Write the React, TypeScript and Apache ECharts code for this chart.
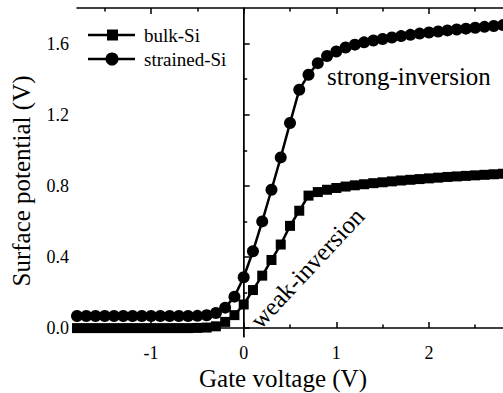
import React, { useEffect, useRef } from "react";
import * as echarts from "echarts";

const gateVoltage = [
  -1.8, -1.7, -1.6, -1.5, -1.4, -1.3, -1.2, -1.1, -1.0, -0.9, -0.8, -0.7, -0.6, -0.5, -0.4,
  -0.3, -0.2, -0.1, 0.0, 0.1, 0.2, 0.3, 0.4, 0.5, 0.6, 0.7, 0.8, 0.9, 1.0, 1.1, 1.2, 1.3,
  1.4, 1.5, 1.6, 1.7, 1.8, 1.9, 2.0, 2.1, 2.2, 2.3, 2.4, 2.5, 2.6, 2.7, 2.8,
];

const bulkSi = [
  0.0, 0.0, 0.0, 0.0, 0.0, 0.0, 0.0, 0.0, 0.0, 0.0, 0.0, 0.0, 0.0, 0.001, 0.003,
  0.01, 0.035, 0.073, 0.133, 0.214, 0.295, 0.383, 0.47, 0.575, 0.66, 0.745, 0.765, 0.778,
  0.788, 0.796, 0.803, 0.809, 0.815, 0.82, 0.825, 0.83, 0.834, 0.838, 0.842, 0.846, 0.85,
  0.853, 0.856, 0.859, 0.862, 0.865, 0.868,
];

const strainedSi = [
  0.068, 0.068, 0.068, 0.068, 0.068, 0.068, 0.068, 0.068, 0.068, 0.068, 0.068, 0.068, 0.068,
  0.069, 0.072, 0.085, 0.115, 0.177, 0.286, 0.432, 0.6, 0.778, 0.96, 1.153, 1.34, 1.425, 1.49,
  1.53, 1.555, 1.578, 1.594, 1.607, 1.617, 1.626, 1.634, 1.642, 1.649, 1.656, 1.662, 1.668,
  1.674, 1.679, 1.684, 1.689, 1.694, 1.699, 1.704,
];

const seriesNames = ["bulk-Si", "strained-Si"];
const xMajorTicks = [-1, 0, 1, 2];
const xMinorTicks = [-1.5, -0.5, 0.5, 1.5, 2.5];
const yMajorTicks = [0, 0.4, 0.8, 1.2, 1.6];
const yMinorTicks = [0.2, 0.6, 1.0, 1.4];
const xTickLabels = ["-1", "0", "1", "2"];
const yTickLabels = ["0.0", "0.4", "0.8", "1.2", "1.6"];

const FONT = "Liberation Serif";

export default function App() {
  const ref = useRef<HTMLDivElement>(null);

  useEffect(() => {
    if (!ref.current) return;
    const chart = echarts.init(ref.current, undefined, { renderer: "svg" });

    const axisLine = { show: true, lineStyle: { color: "#000", width: 1.5 } };
    const xBase = { type: "value", min: -1.8, max: 2.8, splitLine: { show: false } };
    const yBase = { type: "value", min: -0.05, max: 1.8, splitLine: { show: false } };
    const tick = (len: number, vals: number[]) => ({
      show: true,
      inside: true,
      length: len,
      lineStyle: { color: "#000", width: 1.5 },
      customValues: vals,
    });

    const mk = (name: string, data: number[], symbol: string, size: number) => ({
      name,
      type: "line",
      data: gateVoltage.map((v, i) => [v, data[i]]),
      symbol,
      symbolSize: size,
      showSymbol: true,
      lineStyle: { color: "#000", width: 2.5 },
      itemStyle: { color: "#000", borderWidth: 0 },
      xAxisIndex: 0,
      yAxisIndex: 0,
      clip: true,
    });

    chart.setOption({
      animation: false,
      backgroundColor: "#fff",
      grid: { left: 77, top: 8, right: -2, bottom: 56, containLabel: false },
      xAxis: [
        { ...xBase, position: "bottom", axisLine, axisTick: tick(6, xMajorTicks), axisLabel: { show: false } },
        { ...xBase, position: "bottom", axisLine: { show: false }, axisTick: tick(3.5, xMinorTicks), axisLabel: { show: false } },
        { ...xBase, position: "top", axisLine, axisTick: tick(6, xMajorTicks), axisLabel: { show: false } },
        { ...xBase, position: "top", axisLine: { show: false }, axisTick: tick(3.5, xMinorTicks), axisLabel: { show: false } },
      ],
      yAxis: [
        { ...yBase, position: "left", axisLine, axisTick: tick(6, yMajorTicks), axisLabel: { show: false } },
        { ...yBase, position: "left", axisLine: { show: false }, axisTick: tick(3.5, yMinorTicks), axisLabel: { show: false } },
      ],
      series: [
        {
          ...mk(seriesNames[0], bulkSi, "rect", 10),
          markLine: {
            silent: true,
            symbol: "none",
            label: { show: false },
            lineStyle: { color: "#000", width: 1, type: "solid" },
            data: [{ xAxis: 0 }],
          },
        },
        mk(seriesNames[1], strainedSi, "circle", 12),
      ],
    });

    const txt = (text: string, x: number, y: number, size: number, align: string, extra: any = {}) => ({
      type: "text",
      x,
      y,
      ...extra,
      style: { text, fontFamily: FONT, fontSize: size, fill: "#000", align, verticalAlign: "middle" },
    });

    const axisY = chart.convertToPixel({ yAxisIndex: 0 }, -0.05) as number;
    const axisX = chart.convertToPixel({ xAxisIndex: 0 }, -1.8) as number;

    const graphics: any[] = [];
    xMajorTicks.forEach((v, i) => {
      const px = chart.convertToPixel({ xAxisIndex: 0 }, v) as number;
      graphics.push(txt(xTickLabels[i], px, axisY + 16, 18, "center"));
    });
    yMajorTicks.forEach((v, i) => {
      const py = chart.convertToPixel({ yAxisIndex: 0 }, v) as number;
      graphics.push(txt(yTickLabels[i], axisX - 8, py, 18, "right"));
    });

    // legend
    const legendRows = [
      { name: seriesNames[0], y: 35, sym: "rect" },
      { name: seriesNames[1], y: 59, sym: "circle" },
    ];
    legendRows.forEach((r) => {
      graphics.push({
        type: "line",
        shape: { x1: 88, y1: r.y, x2: 135, y2: r.y },
        style: { stroke: "#000", lineWidth: 2.5 },
      });
      if (r.sym === "rect") {
        graphics.push({ type: "rect", shape: { x: 107, y: r.y - 5.5, width: 11, height: 11 }, style: { fill: "#000" } });
      } else {
        graphics.push({ type: "circle", shape: { cx: 112, cy: r.y, r: 6.5 }, style: { fill: "#000" } });
      }
      graphics.push(txt(r.name, 144, r.y, 19, "left"));
    });

    graphics.push(txt("Surface potential (V)", 21, 181, 25, "center", { rotation: Math.PI / 2 }));
    graphics.push(txt("Gate voltage (V)", 283, 378, 25, "center"));
    graphics.push(txt("strong-inversion", 327, 76, 25, "left"));
    graphics.push(txt("weak-inversion", 307, 268, 25, "center", { rotation: (47 * Math.PI) / 180 }));

    chart.setOption({ graphic: graphics });

    return () => chart.dispose();
  }, []);

  return (
    <div
      ref={ref}
      style={{ position: "fixed", left: 0, top: 0, width: 503, height: 393, background: "#fff" }}
    />
  );
}
